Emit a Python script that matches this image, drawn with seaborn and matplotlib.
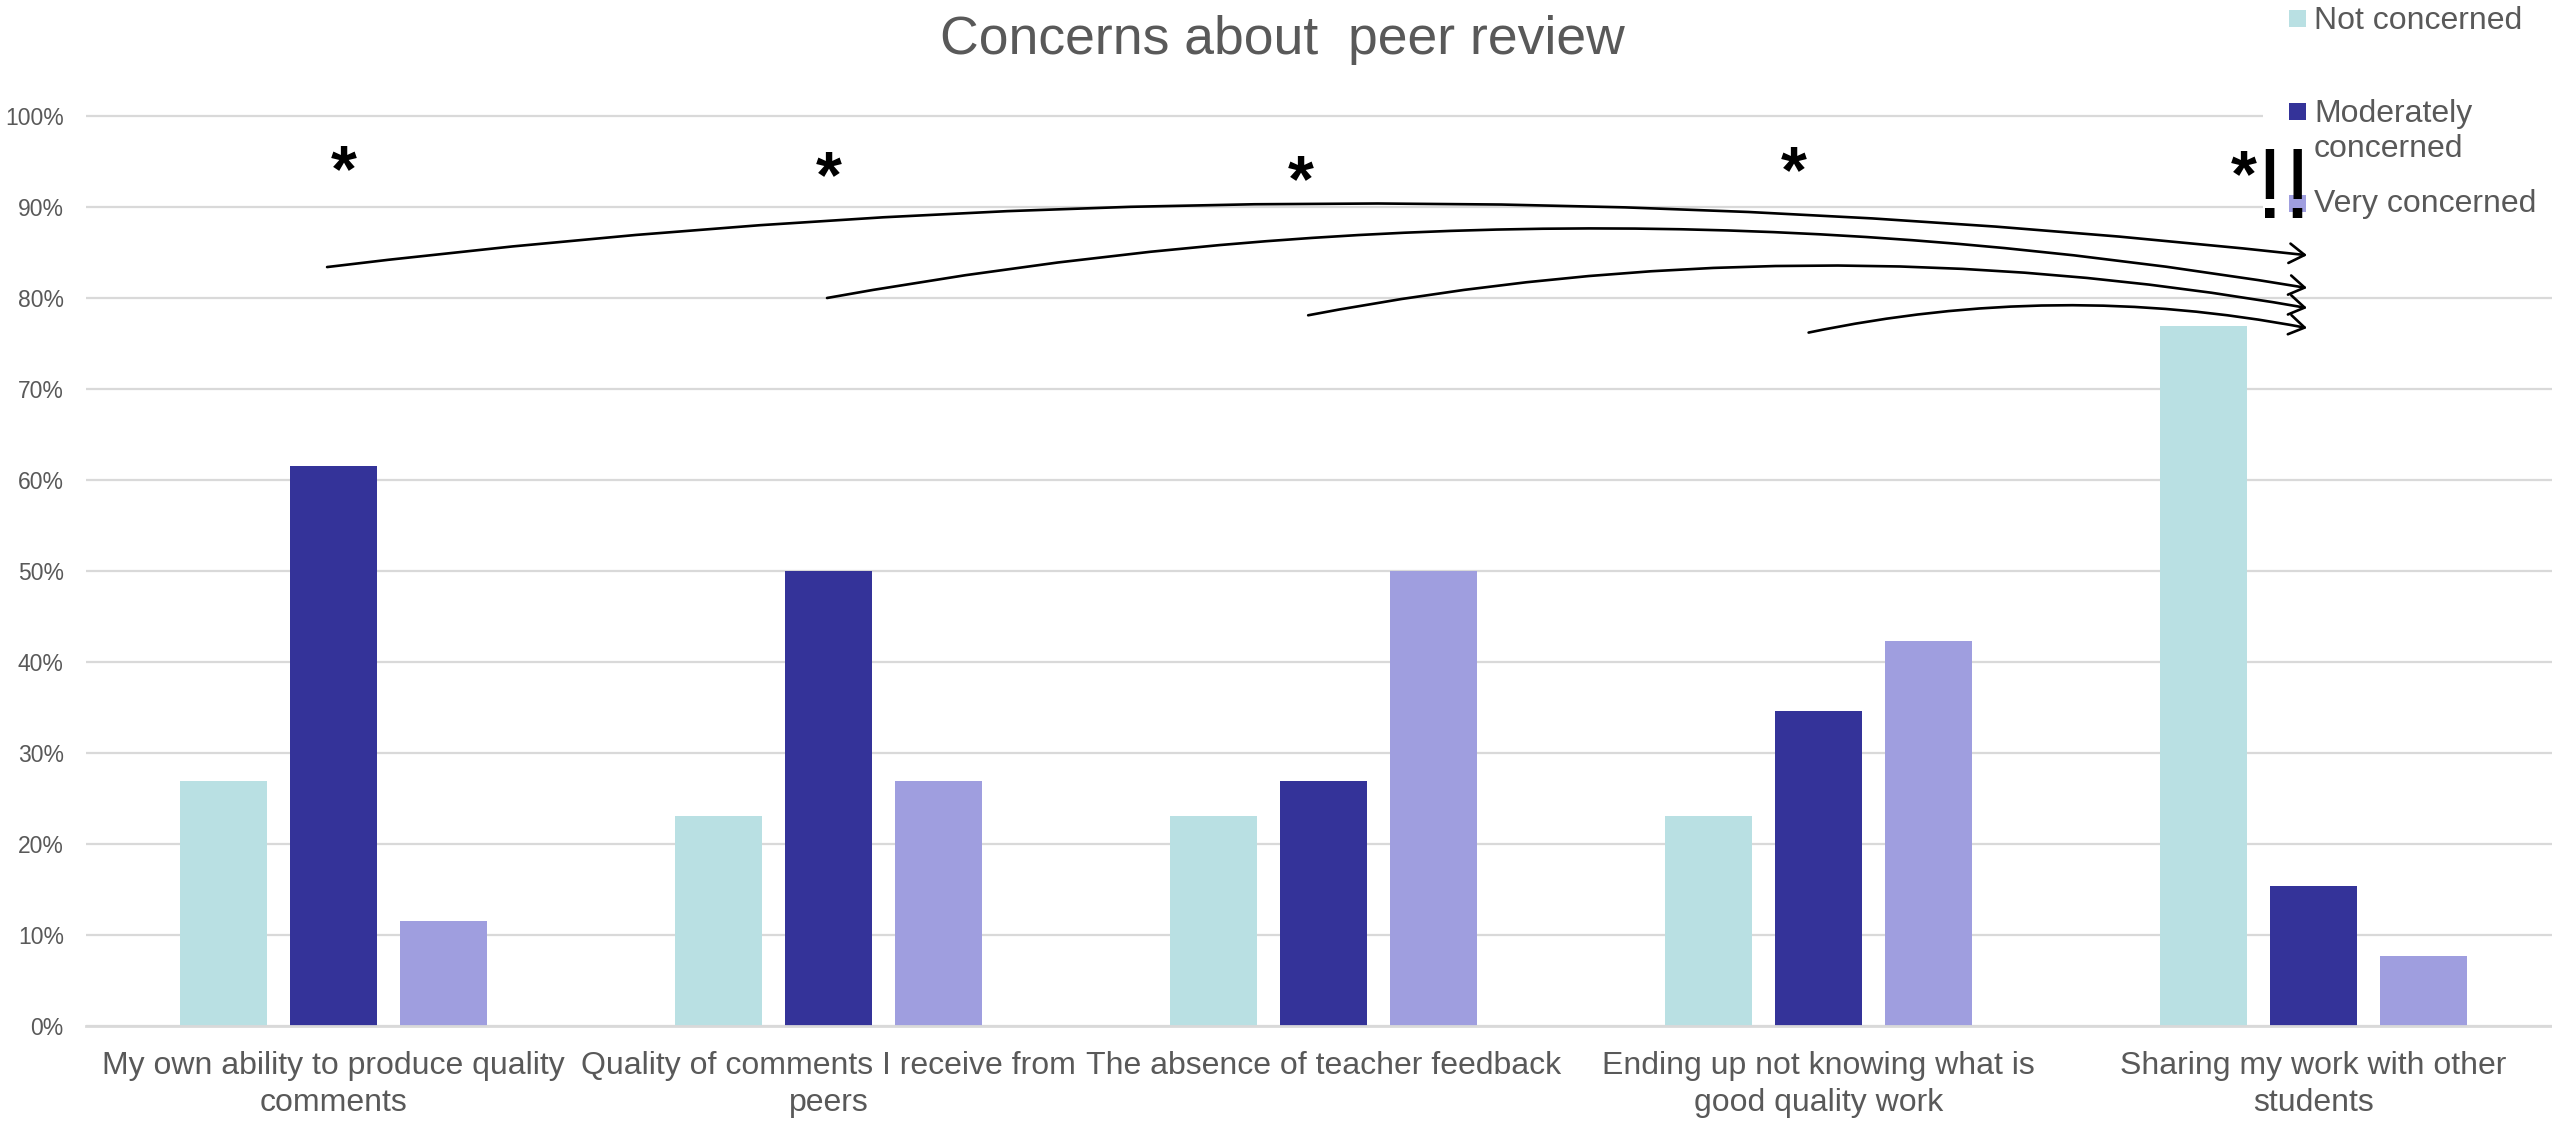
import numpy as np
import pandas as pd
import matplotlib
matplotlib.use("Agg")
import matplotlib.pyplot as plt
import matplotlib.transforms as mtransforms
from matplotlib.patches import Rectangle
import seaborn as sns

# ---- data -------------------------------------------------------------
categories = [
    "My own ability to produce quality comments",
    "Quality of comments I receive from peers",
    "The absence of teacher feedback",
    "Ending up not knowing what is good quality work",
    "Sharing my work with other students",
]
category_labels = [
    "My own ability to produce quality\ncomments",
    "Quality of comments I receive from\npeers",
    "The absence of teacher feedback",
    "Ending up not knowing what is\ngood quality work",
    "Sharing my work with other\nstudents",
]
levels = ["Not concerned", "Moderately concerned", "Very concerned"]
legend_labels = ["Not concerned", "Moderately\nconcerned", "Very concerned"]
not_concerned = [26.9, 23.1, 23.1, 23.1, 76.9]
moderately_concerned = [61.5, 50.0, 26.9, 34.6, 15.4]
very_concerned = [11.5, 26.9, 50.0, 42.3, 7.7]
y_ticks = [0, 10, 20, 30, 40, 50, 60, 70, 80, 90, 100]
y_tick_labels = ["0%", "10%", "20%", "30%", "40%", "50%", "60%", "70%", "80%", "90%", "100%"]
title = "Concerns about  peer review"

# significance markers (category position, height in %)
star_x = [0.02, 1.0, 1.955, 2.95, 3.86]
star_y = [95.9, 95.3, 94.8, 95.8, 95.4]
bang_x, bang_y = 3.94, 92.7

# curved arrows pointing towards the last category: start, end, curvature
arrow_starts = [(-0.013, 83.4), (0.997, 80.0), (1.969, 78.1), (2.98, 76.2)]
arrow_ends = [(3.987, 84.7), (3.987, 81.1), (3.987, 78.9), (3.987, 76.7)]
arrow_rads = [-0.058, -0.087, -0.092, -0.10]

colors = ["#B9E0E3", "#343399", "#9F9EDF"]
text_grey = "#595959"
grid_grey = "#D9D9D9"

df = pd.DataFrame({
    "category": categories * 3,
    "level": np.repeat(levels, len(categories)),
    "share": not_concerned + moderately_concerned + very_concerned,
})

# ---- figure -----------------------------------------------------------
sns.set_theme(style="white")
plt.rcParams["font.family"] = ["Liberation Sans", "DejaVu Sans"]

W, H = 2552, 1127
fig = plt.figure(figsize=(W / 100, H / 100), dpi=100)
ax = fig.add_axes([86 / W, 101 / H, 2475 / W, 919.1 / H])

sns.barplot(
    data=df, x="category", y="share", hue="level",
    order=categories, hue_order=levels, palette=colors,
    width=0.667, gap=0.21, errorbar=None, saturation=1,
    linewidth=0, legend=False, ax=ax,
)

ax.set_xlim(-0.5, 4.5)
ax.set_ylim(0, 101)
ax.set_yticks(y_ticks, y_tick_labels)
ax.set_xticks(range(len(categories)))
ax.set_xticklabels(category_labels, linespacing=1.3)
ax.set_xlabel("")
ax.set_ylabel("")
ax.tick_params(axis="x", length=0, pad=18, labelsize=23, labelcolor=text_grey)
ax.tick_params(axis="y", length=0, pad=16, labelsize=16.5, labelcolor=text_grey)

ax.yaxis.grid(True, color=grid_grey, linewidth=1.6)
ax.xaxis.grid(False)
ax.set_axisbelow(True)
for side in ["left", "right", "top"]:
    ax.spines[side].set_visible(False)
ax.spines["bottom"].set_color(grid_grey)
ax.spines["bottom"].set_linewidth(2)

fig.text(1282 / W, 1 - 54 / H, title, ha="center", va="baseline",
         fontsize=38.5, color=text_grey)

# legend panel
ax.add_artist(Rectangle((2263 / W, 1 - 228 / H), (W - 2263) / W, 228 / H,
                        transform=fig.transFigure, facecolor="white",
                        edgecolor="none", zorder=3, clip_on=False))
square_centres = [18, 112, 203]
text_top_baselines = [29, 121, 212]
for col, lab, yc, yb in zip(colors, legend_labels, square_centres, text_top_baselines):
    ax.add_artist(Rectangle((2289 / W, 1 - (yc + 8.5) / H), 17 / W, 17 / H,
                            transform=fig.transFigure, facecolor=col,
                            edgecolor="none", zorder=4, clip_on=False))
    # baseline alignment follows the last line of a multi-line label
    n_extra = lab.count("\n")
    ax.text(2314 / W, 1 - (yb + 36 * n_extra) / H, lab, transform=fig.transFigure,
            ha="left", va="baseline", fontsize=23, color=text_grey,
            linespacing=1.2, zorder=4)

# arrows
for (x0, y0), (x1, y1), rad in zip(arrow_starts, arrow_ends, arrow_rads):
    ax.annotate(
        "", xy=(x1, y1), xytext=(x0, y0), xycoords="data",
        annotation_clip=False,
        arrowprops=dict(arrowstyle="->,head_length=0.55,head_width=0.35",
                        connectionstyle=f"arc3,rad={rad}",
                        color="black", lw=1.9, shrinkA=0, shrinkB=0,
                        mutation_scale=20),
        zorder=5,
    )

# significance markers
star_fs = 48
star_shift = mtransforms.ScaledTranslation(0, -0.57 * star_fs / 72, fig.dpi_scale_trans)
for sx, sy in zip(star_x, star_y):
    ax.text(sx, sy, "*", transform=ax.transData + star_shift, ha="center",
            va="baseline", fontsize=star_fs, fontweight="bold", color="black",
            zorder=6)
bang_fs = 72
bang_shift = mtransforms.ScaledTranslation(0, -0.36 * bang_fs / 72, fig.dpi_scale_trans)
ax.text(bang_x, bang_y, "!!", transform=ax.transData + bang_shift, ha="center",
        va="baseline", fontsize=bang_fs, color="black", zorder=6)

fig.savefig("out.png", dpi=100, facecolor="white")
